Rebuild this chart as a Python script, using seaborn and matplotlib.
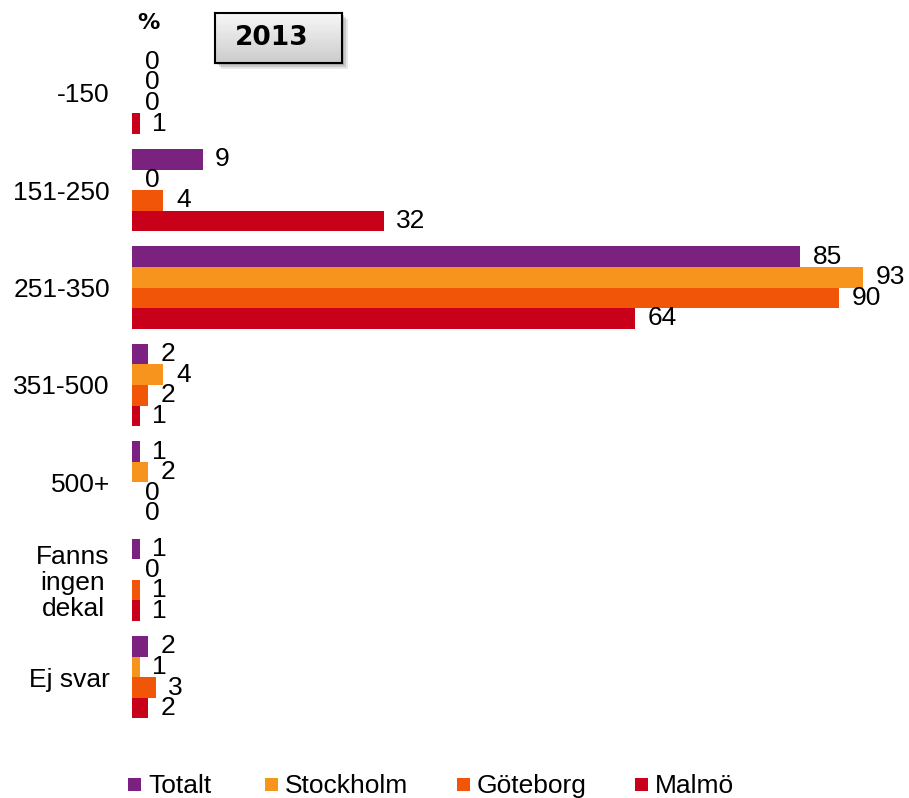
import numpy as np
import pandas as pd
import matplotlib.pyplot as plt
import seaborn as sns
from matplotlib.patches import Rectangle

# ── Data ──────────────────────────────────────────────────────────────────────
categories = ["-150", "151-250", "251-350", "351-500", "500+",
              "Fanns\ningen\ndekal", "Ej svar"]
series = ["Totalt", "Stockholm", "Göteborg", "Malmö"]
totalt = [0, 9, 85, 2, 1, 1, 2]
stockholm = [0, 0, 93, 4, 2, 0, 1]
goteborg = [0, 4, 90, 2, 0, 1, 3]
malmo = [1, 32, 64, 1, 0, 1, 2]
colors = ["#7B2180", "#F7941E", "#F05508", "#C8001A"]

rows = []
for name, vals in zip(series, [totalt, stockholm, goteborg, malmo]):
    for cat, v in zip(categories, vals):
        rows.append({"cat": cat, "serie": name, "val": v})
df = pd.DataFrame(rows)

# ── Figure ────────────────────────────────────────────────────────────────────
W, H = 909, 798
fig = plt.figure(figsize=(W / 100, H / 100), dpi=100)
ax = fig.add_axes([132 / W, 1 - 726 / H, (W - 132) / W, (726 - 44) / H])
ax.patch.set_alpha(0)

sns.barplot(data=df, y="cat", x="val", hue="serie", orient="h",
            palette=colors, width=0.845, ax=ax, legend=False,
            order=categories, hue_order=series, saturation=1)

font = "Liberation Sans"
fs = 19
for cont, vals in zip(ax.containers, [totalt, stockholm, goteborg, malmo]):
    ax.bar_label(cont, labels=[str(v) for v in vals], padding=9,
                 fontsize=fs, family=font, color="black")

ax.set_xlim(0, (W - 132) / 7.86)
ax.set_ylim(len(categories) - 0.5, -0.5)
ax.set_xlabel("")
ax.set_ylabel("")
ax.set_xticks([])
ax.tick_params(axis="y", length=0, pad=16)
for lbl in ax.get_yticklabels():
    lbl.set_fontsize(fs)
    lbl.set_family(font)
    lbl.set_multialignment("center")
    lbl.set_linespacing(1.1)
for s in ax.spines.values():
    s.set_visible(False)

# "%" marker
fig.text(148 / W, 1 - 23 / H, "%", fontsize=16, fontweight="bold",
         family="DejaVu Sans", ha="center", va="center")

# ── Title box "2013" ──────────────────────────────────────────────────────────
bx0, by0, bx1, by1 = 215, 13, 342, 63
for off, a in [(6, 0.2), (4, 0.3), (2, 0.4)]:
    shadow = Rectangle(((bx0 + off) / W, 1 - (by1 + off) / H), (bx1 - bx0) / W,
                       (by1 - by0) / H, transform=fig.transFigure,
                       facecolor="#8a8a8a", edgecolor="none", alpha=a,
                       zorder=1)
    fig.patches.append(shadow)
bax = fig.add_axes([bx0 / W, 1 - by1 / H, (bx1 - bx0) / W, (by1 - by0) / H])
bax.set_zorder(5)
grad = np.linspace(0.97, 0.80, 50).reshape(-1, 1)
bax.imshow(np.dstack([grad, grad, grad]), aspect="auto",
           extent=[0, 1, 0, 1])
bax.set_xticks([])
bax.set_yticks([])
for s in bax.spines.values():
    s.set_linewidth(1.5)
    s.set_color("black")
bax.text(0.45, 0.5, "2013", fontsize=19, fontweight="bold", color="black",
         family="DejaVu Sans", ha="center", va="center", transform=bax.transAxes)

# ── Legend (drawn by hand to match the spacing) ───────────────────────────────
leg_marker_x = [128, 265, 457, 635]
for mx, name, c in zip(leg_marker_x, series, colors):
    fig.patches.append(Rectangle((mx / W, 1 - 791 / H), 13 / W, 13 / H,
                                 transform=fig.transFigure, facecolor=c,
                                 edgecolor="none"))
    fig.text((mx + 20) / W, 1 - 793 / H, name, fontsize=fs, family=font,
             ha="left", va="baseline")

fig.savefig("out.png", dpi=100)
